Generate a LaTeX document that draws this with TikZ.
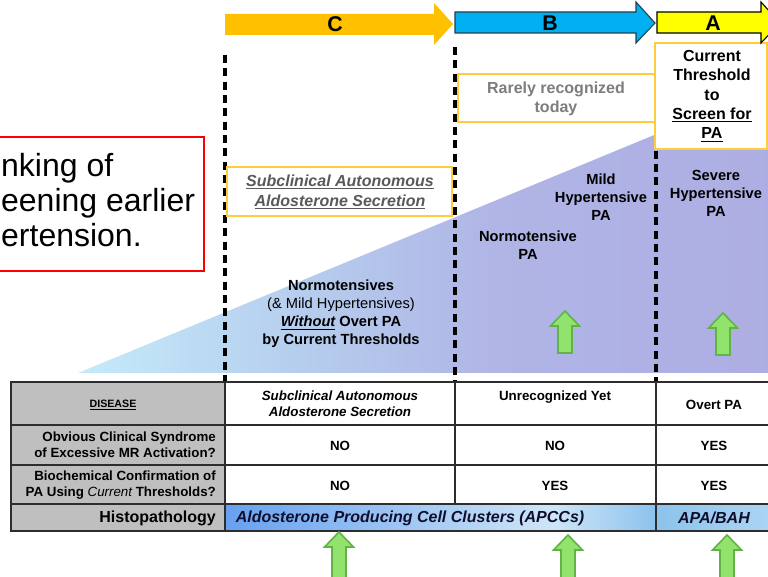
\documentclass[tikz,border=0pt]{standalone}
\usepackage{fontspec}
\setmainfont{Liberation Sans}
\usetikzlibrary{positioning,shadings}

\definecolor{orangeC}{RGB}{255,192,0}
\definecolor{blueB}{RGB}{0,176,240}
\definecolor{yellowA}{RGB}{255,255,0}
\definecolor{arrowline}{RGB}{40,60,80}
\definecolor{boxline}{RGB}{255,204,60}
\definecolor{txtgray}{RGB}{89,89,89}
\definecolor{txtlight}{RGB}{125,125,125}
\definecolor{cellgray}{RGB}{191,191,191}
\definecolor{gridline}{RGB}{45,45,45}
\definecolor{greenfill}{RGB}{146,226,110}
\definecolor{greenline}{RGB}{96,180,70}
\definecolor{apaleft}{RGB}{140,195,236}
\definecolor{aparight}{RGB}{172,212,243}
\definecolor{navytxt}{RGB}{15,15,45}

\pgfdeclarehorizontalshading{wedgeshade}{100bp}{rgb(0bp)=(0.77,0.92,0.98); rgb(25bp)=(0.77,0.92,0.98); rgb(42bp)=(0.71,0.80,0.93); rgb(55bp)=(0.69,0.71,0.90); rgb(75bp)=(0.68,0.68,0.89); rgb(100bp)=(0.68,0.68,0.89)}
\pgfdeclarehorizontalshading{apccshade}{100bp}{rgb(0bp)=(0.40,0.63,0.94); rgb(25bp)=(0.40,0.63,0.94); rgb(63bp)=(0.81,0.90,0.97); rgb(75bp)=(0.55,0.76,0.93); rgb(100bp)=(0.55,0.76,0.93)}

\tikzstyle{every node}+=[inner sep=0.5mm,text=black]
\tikzstyle{divider}=[black,line width=2.3pt,dash pattern=on 6pt off 4pt]
\tikzstyle{notebox}=[draw=boxline,fill=white,line width=1pt]
\tikzstyle{stage}=[font=\fontsize{16}{18}\selectfont\bfseries]
\tikzstyle{wedgetext}=[align=center,font=\fontsize{11}{13.5}\selectfont\bfseries]
\tikzstyle{cell}=[align=center,font=\fontsize{10}{12}\selectfont\bfseries]
\tikzstyle{rowhead}=[anchor=east,align=right,font=\fontsize{10}{12}\selectfont\bfseries]
\tikzstyle{grid}=[draw=gridline,line width=0.9pt]
\tikzstyle{greenup}=[fill=greenfill,draw=greenline,line width=1.2pt,line join=miter]

\newcommand{\greenarrow}[3]{%
  \draw[greenup] (#1,#2) -- ++(14.5,15) -- ++(-7.5,0) -- ++(0,#3-15)
    -- ++(-14,0) -- ++(0,-#3+15) -- ++(-7.5,0) -- cycle;}

\begin{document}
\begin{tikzpicture}[x=0.75pt,y=-0.75pt]

\useasboundingbox (0,0) rectangle (768,577);
\fill[white] (0,0) rectangle (768,577);

\shade[shading=wedgeshade] (78,373) -- (768,88) -- (768,373) -- cycle;

\draw[divider] (225,55) -- (225,382);
\draw[divider] (455,47) -- (455,382);
\draw[divider] (656,44) -- (656,382);

\draw[notebox] (227,167) rectangle (452,216);
\node[align=center,text=txtgray,font=\fontsize{12}{14.5}\selectfont\bfseries\itshape] (sasbox) at (340,192)
  {\underline{Subclinical Autonomous}\\\underline{Aldosterone Secretion}};

\draw[notebox] (458,74) rectangle (656,122);
\node[align=center,text=txtlight,font=\fontsize{12}{14}\selectfont\bfseries] (rarely) at (556,99)
  {Rarely recognized\\today};

\draw[notebox] (655,43) rectangle (767,149);
\node[align=center,font=\fontsize{12}{14.5}\selectfont\bfseries] (threshold) at (712,96)
  {Current\\Threshold\\to\\\underline{Screen for}\\\underline{PA}};

\fill[orangeC] (225,14) -- (434,14) -- (434,3) -- (453,24) -- (434,45) -- (434,35) -- (225,35) -- cycle;
\draw[fill=blueB,draw=arrowline,line width=0.8pt] (455,12) -- (636,12) -- (636,2) -- (655,23) -- (636,43) -- (636,33) -- (455,33) -- cycle;
\draw[fill=yellowA,draw=black,line width=0.8pt] (657,12) -- (761,12) -- (761,2) -- (780,23) -- (761,43) -- (761,33) -- (657,33) -- cycle;
\node[stage] (C) at (335,24) {C};
\node[stage] (B) at (550,23) {B};
\node[stage] (A) at (713,23) {A};

\node[wedgetext] (normo) at (341,314)
  {Normotensives\\\mdseries(\& Mild Hypertensives)\\\underline{\itshape Without} Overt PA\\by Current Thresholds};
\node[wedgetext] (normopa) at (528,245) {Normotensive\\PA};
\node[wedgetext] (mild) at (601,197) {Mild\\Hypertensive\\PA};
\node[wedgetext] (severe) at (716,193) {Severe\\Hypertensive\\PA};

\greenarrow{565}{311}{42}
\greenarrow{723}{313}{42}

\draw[red,line width=2.2pt] (-10,137) rectangle (204,271);
\node[anchor=west,align=left,font=\fontsize{24}{26.3}\selectfont] (thinking) at (-1,200)
  {nking of\\eening earlier\\ertension.};

\fill[cellgray] (11,382) rectangle (225,531);
\shade[shading=apccshade] (225,504) rectangle (656,531);
\shade[left color=apaleft,right color=aparight] (656,504) rectangle (770,531);
\draw[grid] (11,382) rectangle (770,531);
\draw[grid] (11,425) -- (770,425);
\draw[grid] (11,465) -- (770,465);
\draw[grid] (11,504) -- (770,504);
\draw[grid] (225,382) -- (225,531);
\draw[grid] (455,382) -- (455,504);
\draw[grid] (656,382) -- (656,531);

\node[font=\fontsize{8}{10}\selectfont\bfseries] (disease) at (113,405) {\underline{DISEASE}};
\node[rowhead] (obvious) at (218,445) {Obvious Clinical Syndrome\\of Excessive MR Activation?};
\node[rowhead] (biochem) at (218,485) {Biochemical Confirmation of\\PA Using \mdseries\itshape Current \bfseries\upshape Thresholds?};
\node[rowhead,font=\fontsize{12}{14}\selectfont\bfseries] (histo) at (218,518) {Histopathology};

\node[cell,font=\fontsize{10}{12}\selectfont\bfseries\itshape] (sascell) at (340,404) {Subclinical Autonomous\\Aldosterone Secretion};
\node[cell] (no1) at (340,446) {NO};
\node[cell] (no2) at (340,486) {NO};
\node[cell] (unrec) at (555,397) {Unrecognized Yet};
\node[cell] (no3) at (555,446) {NO};
\node[cell] (yes1) at (555,486) {YES};
\node[cell] (overt) at (714,405) {Overt PA};
\node[cell] (yes2) at (714,446) {YES};
\node[cell] (yes3) at (714,486) {YES};
\node[text=navytxt,font=\fontsize{12}{14}\selectfont\bfseries\itshape] (apcc) at (410,518) {Aldosterone Producing Cell Clusters (APCCs)};
\node[text=navytxt,font=\fontsize{12}{14}\selectfont\bfseries\itshape] (apabah) at (714,518) {APA/BAH};

\greenarrow{339}{532}{46}
\greenarrow{568}{535}{43}
\greenarrow{727}{535}{43}

\end{tikzpicture}
\end{document}
